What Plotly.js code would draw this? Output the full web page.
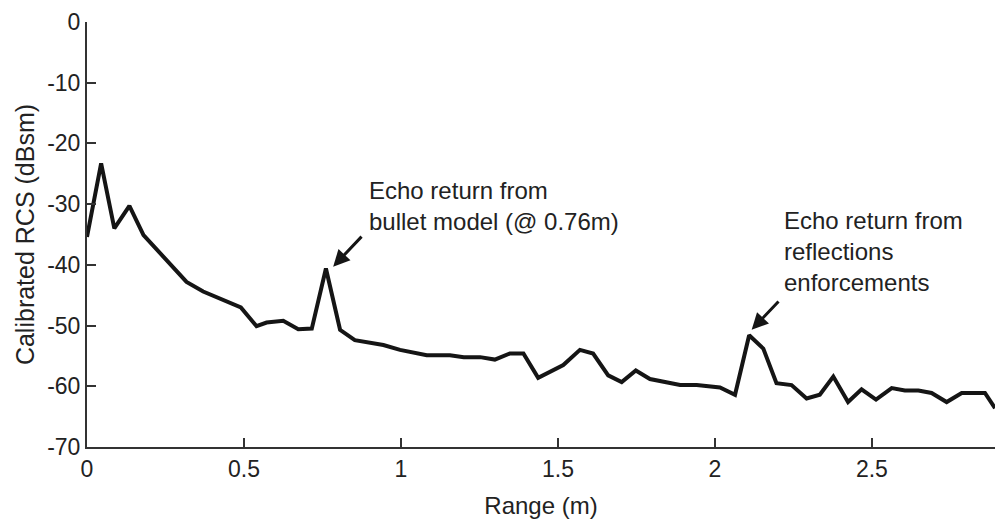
<!DOCTYPE html>
<html>
<head>
<meta charset="utf-8">
<script src="https://cdn.plot.ly/plotly-3.0.1.min.js"></script>
<style>html,body{margin:0;padding:0;background:#fff;}#chart{width:995px;height:522px;}</style>
</head>
<body>
<div id="chart"></div>
<script>
const rangeM = [0, 0.045, 0.087, 0.135, 0.18, 0.264, 0.317, 0.37, 0.49, 0.54, 0.572, 0.625, 0.673, 0.716, 0.761, 0.806, 0.853, 0.944, 0.997, 1.082, 1.156, 1.2, 1.252, 1.299, 1.347, 1.39, 1.437, 1.517, 1.57, 1.612, 1.66, 1.703, 1.748, 1.793, 1.889, 1.942, 2.016, 2.064, 2.109, 2.154, 2.196, 2.244, 2.292, 2.334, 2.377, 2.424, 2.467, 2.513, 2.563, 2.605, 2.648, 2.69, 2.738, 2.786, 2.86, 2.892];
const rcsDbsm = [-35.4, -23.3, -34.0, -30.3, -35.1, -39.8, -42.8, -44.4, -47.0, -50.1, -49.5, -49.2, -50.6, -50.5, -40.6, -50.7, -52.4, -53.2, -54.0, -54.9, -54.9, -55.2, -55.2, -55.6, -54.6, -54.6, -58.6, -56.5, -54.0, -54.6, -58.2, -59.3, -57.4, -58.8, -59.8, -59.8, -60.2, -61.4, -51.6, -53.8, -59.5, -59.8, -62.0, -61.4, -58.4, -62.6, -60.5, -62.2, -60.3, -60.7, -60.7, -61.1, -62.6, -61.1, -61.1, -63.6];
const xTicks = [0, 0.5, 1, 1.5, 2, 2.5];
const xTickLabels = ['0', '0.5', '1', '1.5', '2', '2.5'];
const yTicks = [0, -10, -20, -30, -40, -50, -60, -70];
const yTickLabels = ['0', '-10', '-20', '-30', '-40', '-50', '-60', '-70'];
const note1 = 'Echo return from<br>bullet model (@ 0.76m)';
const note2 = 'Echo return from<br>reflections<br>enforcements';

const fam = 'Liberation Sans, Arial, Helvetica, sans-serif';
const txtColor = '#222';

const trace = {
  x: rangeM, y: rcsDbsm, type: 'scatter', mode: 'lines',
  line: {color: '#151515', width: 4}, hoverinfo: 'skip'
};

const axisCommon = {
  showgrid: false, zeroline: false, showline: true, linecolor: '#333', linewidth: 2,
  ticks: 'inside', ticklen: 9, tickwidth: 2, tickcolor: '#333',
  tickfont: {family: fam, size: 23, color: txtColor}, mirror: false
};

const layout = {
  width: 995, height: 522,
  margin: {l: 87, r: 0, t: 22, b: 75},
  paper_bgcolor: '#fff', plot_bgcolor: '#fff',
  showlegend: false,
  xaxis: Object.assign({}, axisCommon, {
    range: [0, 2.892], tickvals: xTicks, ticktext: xTickLabels,
    title: {text: 'Range (m)', font: {family: fam, size: 24, color: txtColor}, standoff: 17}
  }),
  yaxis: Object.assign({}, axisCommon, {
    range: [-70, 0], tickvals: yTicks, ticktext: yTickLabels,
    title: {text: 'Calibrated RCS (dBsm)', font: {family: fam, size: 25, color: txtColor}, standoff: 5}
  }),
  annotations: [
    {x: 0.784, y: -40.3, ax: 0.879, ay: -35.1, axref: 'x', ayref: 'y', xref: 'x', yref: 'y',
     text: '', showarrow: true, arrowhead: 2, arrowsize: 1.1, arrowwidth: 3, arrowcolor: '#151515'},
    {x: 2.117, y: -50.7, ax: 2.207, ay: -45.8, axref: 'x', ayref: 'y', xref: 'x', yref: 'y',
     text: '', showarrow: true, arrowhead: 2, arrowsize: 1.1, arrowwidth: 3, arrowcolor: '#151515'},
    {x: 0.891, y: -30.3, xref: 'x', yref: 'y', xanchor: 'left', yanchor: 'middle', align: 'left',
     text: note1, showarrow: false, font: {family: fam, size: 24, color: txtColor}},
    {x: 2.212, y: -37.8, xref: 'x', yref: 'y', xanchor: 'left', yanchor: 'middle', align: 'left',
     text: note2, showarrow: false, font: {family: fam, size: 24, color: txtColor}}
  ]
};

Plotly.newPlot('chart', [trace], layout, {displayModeBar: false, staticPlot: true});
</script>
</body>
</html>
